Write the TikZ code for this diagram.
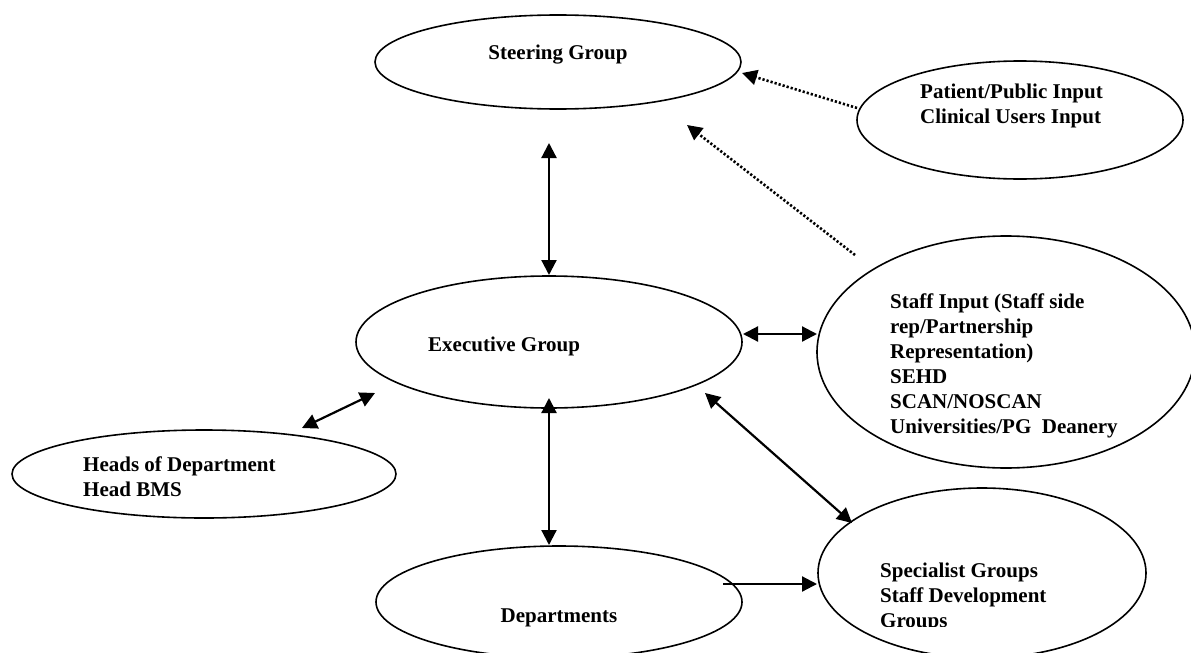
\documentclass[tikz,border=0pt]{standalone}
\usepackage{fontspec}
\setmainfont{Liberation Serif}
\usetikzlibrary{shapes.geometric,arrows.meta}
\begin{document}
\begin{tikzpicture}[x=1pt,y=-1pt,
  oval/.style={ellipse,draw,line width=1.6pt,inner sep=0pt},
  lbl/.style={font=\fontsize{21}{25}\selectfont\bfseries,align=left,inner sep=0pt},
  link/.style={line width=2.2pt,{Triangle[length=15pt,width=15pt]}-{Triangle[length=15pt,width=15pt]}},
  onelink/.style={line width=2.2pt,-{Triangle[length=15pt,width=15pt]}},
  dotlink/.style={line width=2.6pt,dash pattern=on 2.2pt off 2pt,-{Triangle[length=15pt,width=15pt,sep=0pt]}}
]
\useasboundingbox (0,0) rectangle (1191,653);
\clip (0,0) rectangle (1191,653);
\fill[white] (0,0) rectangle (1191,653);

% ellipses
\node[oval,minimum width=366pt,minimum height=94pt] (steer) at (558,62) {};
\node[oval,minimum width=326pt,minimum height=118pt] (pat) at (1020,120) {};
\node[oval,minimum width=386pt,minimum height=132pt] (exec) at (549,342) {};
\node[oval,minimum width=378pt,minimum height=232pt] (staff) at (1006,352) {};
\node[oval,minimum width=384pt,minimum height=88pt] (heads) at (204,474) {};
\node[oval,minimum width=366pt,minimum height=112pt] (dept) at (559,602) {};
\node[oval,minimum width=328pt,minimum height=170pt] (spec) at (982,573) {};

% labels (multi-line: base = last line)
\node[lbl,anchor=base] (tsteer) at (558,59) {Steering Group};
\node[lbl,anchor=base west] (tpat) at (920,123) {Patient/Public Input\\Clinical Users Input};
\node[lbl,anchor=base west] (texec) at (428,351) {Executive Group};
\node[lbl,anchor=base west] (tstaff) at (890,433) {Staff Input (Staff side\\rep/Partnership\\Representation)\\SEHD\\SCAN/NOSCAN\\Universities/PG\ \ Deanery};
\node[lbl,anchor=base west] (theads) at (83,496) {Heads of Department\\Head BMS};
\node[lbl,anchor=base] (tdept) at (559,622) {Departments};
\begin{scope}
\clip (800,480) rectangle (1191,626);
\node[lbl,anchor=base west] (tspec) at (880,627) {Specialist Groups\\Staff Development\\Groups};
\end{scope}

% connector end points
\coordinate (d1a) at (857,108);
\coordinate (d1b) at (742,73);
\coordinate (d2a) at (855,255);
\coordinate (d2b) at (687,125);
\coordinate (se1) at (549,143);
\coordinate (se2) at (549,275);
\coordinate (es1) at (743,334);
\coordinate (es2) at (817,334);
\coordinate (he1) at (302,428);
\coordinate (he2) at (375,393);
\coordinate (ed1) at (549,398);
\coordinate (ed2) at (549,545);
\coordinate (ex1) at (705,393);
\coordinate (ex2) at (852,523);
\coordinate (ds1) at (723,584);
\coordinate (ds2) at (817,584);

% connectors
\draw[dotlink] (d1a) -- (d1b);
\draw[dotlink] (d2a) -- (d2b);
\draw[link] (se1) -- (se2);
\draw[link] (es1) -- (es2);
\draw[link] (he1) -- (he2);
\draw[link] (ed1) -- (ed2);
\draw[link] (ex1) -- (ex2);
\draw[onelink] (ds1) -- (ds2);
\end{tikzpicture}
\end{document}
